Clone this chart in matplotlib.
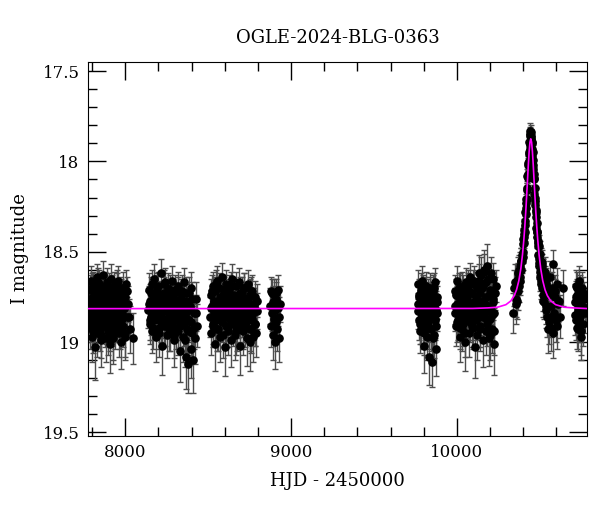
import numpy as np
import matplotlib
matplotlib.use("Agg")
import matplotlib.pyplot as plt
from matplotlib.ticker import MultipleLocator

# OGLE photometry, HJD - 2450000, I mag, error
t1 = [7781, 7784, 7786, 7789, 7792, 7795, 7797, 7800, 7803, 7806,
      7808, 7811, 7814, 7816, 7819, 7822, 7825, 7827, 7830, 7833,
      7836, 7839, 7841, 7844, 7847, 7850, 7853, 7855, 7858, 7861,
      7864, 7867, 7870, 7872, 7875, 7878, 7881, 7884, 7886, 7889,
      7892, 7895, 7898, 7901, 7903, 7906, 7909, 7912, 7915, 7918,
      7921, 7923, 7926, 7929, 7932, 7935, 7938, 7941, 7944, 7947,
      7950, 7953, 7956, 7960, 7963, 7966, 7970, 7973, 7977, 7980,
      7984, 7988, 7992, 7996, 8001, 8006, 8012, 8019, 8030, 8046,
      7782, 7788, 7794, 7799, 7805, 7810, 7815, 7821, 7826, 7832,
      7837, 7843, 7848, 7854, 7859, 7865, 7871, 7876, 7882, 7888,
      7893, 7899, 7905, 7910, 7916, 7922, 7927, 7933, 7939, 7945,
      7951, 7957, 7962, 7968, 7975, 7982, 7990, 7999, 8009, 8024]
m1 = [18.78, 18.85, 18.71, 18.92, 18.80, 18.66, 18.88, 18.97, 18.75, 18.83,
      18.69, 18.90, 18.81, 18.74, 19.03, 18.86, 18.77, 18.64, 18.95, 18.82,
      18.73, 18.87, 18.79, 18.68, 18.93, 18.84, 18.76, 18.99, 18.70, 18.89,
      18.81, 18.63, 18.86, 18.77, 18.91, 18.72, 18.84, 18.98, 18.79, 18.67,
      18.88, 18.75, 18.94, 18.82, 18.70, 19.01, 18.85, 18.78, 18.65, 18.90,
      18.83, 18.74, 18.96, 18.80, 18.69, 18.87, 18.92, 18.76, 18.84, 18.71,
      18.89, 18.79, 18.66, 18.95, 18.82, 18.73, 18.86, 19.00, 18.77, 18.84,
      18.70, 18.91, 18.81, 18.75, 18.97, 18.68, 18.86, 18.79, 18.93, 18.98,
      18.76, 18.89, 18.83, 18.70, 18.94, 18.79, 18.86, 18.72, 18.81, 18.91,
      18.67, 18.85, 18.78, 18.96, 18.74, 18.88, 18.82, 18.69, 18.90, 18.77,
      18.84, 18.73, 18.93, 18.80, 18.87, 18.71, 18.98, 18.83, 18.76, 18.89,
      18.68, 18.85, 18.79, 18.92, 18.74, 18.87, 18.81, 18.95, 18.72, 18.86]
e1 = [0.09, 0.10, 0.08, 0.12, 0.09, 0.08, 0.11, 0.14, 0.09, 0.10,
      0.08, 0.11, 0.10, 0.09, 0.18, 0.10, 0.09, 0.07, 0.13, 0.10,
      0.09, 0.11, 0.09, 0.08, 0.12, 0.10, 0.09, 0.15, 0.08, 0.11,
      0.10, 0.08, 0.11, 0.09, 0.12, 0.09, 0.10, 0.13, 0.10, 0.08,
      0.11, 0.09, 0.13, 0.10, 0.08, 0.16, 0.11, 0.09, 0.08, 0.12,
      0.10, 0.09, 0.14, 0.10, 0.08, 0.11, 0.12, 0.09, 0.10, 0.09,
      0.11, 0.10, 0.08, 0.13, 0.10, 0.09, 0.11, 0.15, 0.09, 0.10,
      0.09, 0.12, 0.10, 0.09, 0.13, 0.08, 0.11, 0.10, 0.13, 0.14,
      0.09, 0.11, 0.10, 0.08, 0.12, 0.09, 0.10, 0.08, 0.10, 0.11,
      0.08, 0.10, 0.09, 0.13, 0.09, 0.11, 0.10, 0.08, 0.11, 0.09,
      0.10, 0.09, 0.12, 0.10, 0.11, 0.08, 0.14, 0.10, 0.09, 0.11,
      0.08, 0.10, 0.09, 0.12, 0.09, 0.11, 0.10, 0.13, 0.08, 0.10]

t2 = [8139, 8143, 8147, 8150, 8154, 8158, 8161, 8165, 8168, 8172,
      8175, 8179, 8182, 8186, 8189, 8193, 8196, 8200, 8203, 8207,
      8210, 8214, 8217, 8221, 8224, 8228, 8231, 8235, 8238, 8242,
      8245, 8249, 8252, 8256, 8259, 8263, 8266, 8270, 8273, 8277,
      8280, 8284, 8287, 8291, 8294, 8298, 8301, 8305, 8308, 8312,
      8315, 8319, 8322, 8326, 8329, 8333, 8336, 8340, 8343, 8347,
      8350, 8354, 8357, 8361, 8364, 8368, 8371, 8375, 8378, 8382,
      8386, 8390, 8394, 8398, 8402, 8407, 8412, 8418, 8425, 8433,
      8141, 8148, 8156, 8163, 8170, 8177, 8184, 8191, 8198, 8205,
      8212, 8219, 8226, 8233, 8240, 8247, 8254, 8261, 8268, 8275,
      8282, 8289, 8296, 8303, 8310, 8317, 8324, 8331, 8338, 8345,
      8352, 8359, 8366, 8373, 8380, 8388, 8396, 8404, 8415, 8428]
m2 = [18.82, 18.71, 18.90, 18.77, 18.86, 18.68, 18.94, 18.80, 18.74, 18.88,
      18.65, 18.84, 18.79, 18.97, 18.72, 18.87, 18.81, 18.69, 18.92, 18.76,
      18.85, 18.62, 18.89, 18.78, 19.02, 18.83, 18.73, 18.91, 18.80, 18.67,
      18.87, 18.75, 18.96, 18.82, 18.70, 18.86, 18.79, 18.93, 18.74, 18.84,
      18.66, 18.89, 18.81, 18.99, 18.76, 18.85, 18.71, 18.92, 18.83, 18.78,
      18.94, 18.69, 18.86, 18.80, 19.05, 18.74, 18.88, 18.82, 18.72, 18.97,
      18.79, 18.90, 18.67, 18.85, 19.08, 18.77, 18.93, 18.83, 19.12, 18.73,
      18.88, 18.81, 19.04, 18.70, 18.95, 19.10, 18.84, 18.98, 18.76, 18.91,
      18.79, 18.88, 18.73, 18.84, 18.92, 18.77, 18.86, 18.70, 18.81, 18.95,
      18.75, 18.87, 18.80, 18.68, 18.90, 18.83, 18.76, 18.93, 18.71, 18.85,
      18.82, 18.74, 18.96, 18.79, 18.88, 18.72, 18.84, 18.91, 18.77, 18.86,
      18.81, 18.99, 18.73, 18.87, 18.94, 18.80, 18.89, 18.76, 18.92, 18.84]
e2 = [0.10, 0.09, 0.11, 0.09, 0.10, 0.08, 0.12, 0.10, 0.09, 0.11,
      0.08, 0.10, 0.09, 0.14, 0.09, 0.11, 0.10, 0.08, 0.12, 0.09,
      0.10, 0.08, 0.11, 0.09, 0.16, 0.10, 0.09, 0.12, 0.10, 0.08,
      0.11, 0.09, 0.13, 0.10, 0.08, 0.11, 0.09, 0.12, 0.09, 0.10,
      0.08, 0.11, 0.10, 0.15, 0.09, 0.11, 0.08, 0.12, 0.10, 0.09,
      0.13, 0.08, 0.11, 0.10, 0.17, 0.09, 0.11, 0.10, 0.09, 0.14,
      0.10, 0.12, 0.08, 0.11, 0.18, 0.09, 0.13, 0.10, 0.16, 0.09,
      0.11, 0.10, 0.16, 0.09, 0.13, 0.18, 0.10, 0.14, 0.09, 0.12,
      0.10, 0.11, 0.09, 0.10, 0.12, 0.09, 0.11, 0.08, 0.10, 0.13,
      0.09, 0.11, 0.10, 0.08, 0.12, 0.10, 0.09, 0.12, 0.08, 0.10,
      0.10, 0.09, 0.13, 0.10, 0.11, 0.08, 0.10, 0.12, 0.09, 0.11,
      0.10, 0.15, 0.09, 0.11, 0.13, 0.10, 0.11, 0.09, 0.12, 0.10]

t3 = [8512, 8516, 8519, 8523, 8526, 8530, 8533, 8537, 8540, 8544,
      8547, 8551, 8554, 8557, 8561, 8564, 8568, 8571, 8575, 8578,
      8582, 8585, 8589, 8592, 8596, 8599, 8603, 8606, 8610, 8613,
      8617, 8620, 8624, 8627, 8631, 8634, 8638, 8641, 8645, 8648,
      8652, 8655, 8659, 8662, 8666, 8669, 8673, 8676, 8680, 8683,
      8687, 8690, 8694, 8697, 8701, 8704, 8708, 8711, 8715, 8718,
      8722, 8725, 8729, 8732, 8736, 8739, 8743, 8746, 8750, 8754,
      8757, 8761, 8765, 8769, 8773, 8777, 8781, 8785, 8790, 8795,
      8514, 8521, 8528, 8535, 8542, 8549, 8556, 8563, 8570, 8577,
      8584, 8591, 8598, 8605, 8612, 8619, 8626, 8633, 8640, 8647,
      8654, 8661, 8668, 8675, 8682, 8689, 8696, 8703, 8710, 8717,
      8724, 8731, 8738, 8745, 8752, 8759, 8767, 8775, 8783, 8792]
m3 = [18.86, 18.74, 18.95, 18.80, 18.69, 18.91, 18.83, 18.77, 19.01, 18.72,
      18.88, 18.81, 18.66, 18.93, 18.78, 18.85, 18.70, 18.97, 18.82, 18.75,
      18.64, 18.89, 18.79, 18.86, 18.73, 19.03, 18.84, 18.68, 18.91, 18.80,
      18.76, 18.94, 18.82, 18.71, 18.87, 18.78, 18.99, 18.65, 18.85, 18.81,
      18.90, 18.74, 18.83, 18.96, 18.69, 18.87, 18.79, 18.92, 18.75, 18.84,
      18.67, 18.89, 19.02, 18.80, 18.73, 18.86, 18.94, 18.77, 18.83, 18.70,
      18.91, 18.82, 18.76, 18.98, 18.85, 18.68, 18.88, 18.79, 19.00, 18.74,
      18.86, 18.93, 18.72, 18.84, 18.97, 18.80, 18.90, 18.75, 18.95, 18.83,
      18.81, 18.72, 18.90, 18.78, 18.85, 18.68, 18.93, 18.83, 18.75, 18.88,
      18.80, 18.96, 18.71, 18.86, 18.79, 18.91, 18.74, 18.84, 18.69, 18.89,
      18.82, 18.77, 18.94, 18.80, 18.87, 18.73, 18.85, 18.78, 18.92, 18.70,
      18.84, 18.89, 18.76, 18.81, 18.93, 18.72, 18.87, 18.79, 18.90, 18.77]
e3 = [0.11, 0.09, 0.12, 0.10, 0.08, 0.12, 0.10, 0.09, 0.15, 0.08,
      0.11, 0.10, 0.08, 0.12, 0.09, 0.11, 0.08, 0.14, 0.10, 0.09,
      0.08, 0.11, 0.10, 0.11, 0.09, 0.16, 0.10, 0.08, 0.12, 0.10,
      0.09, 0.13, 0.10, 0.08, 0.11, 0.09, 0.15, 0.08, 0.11, 0.10,
      0.12, 0.09, 0.10, 0.14, 0.08, 0.11, 0.09, 0.13, 0.09, 0.10,
      0.08, 0.11, 0.16, 0.10, 0.09, 0.11, 0.13, 0.09, 0.10, 0.08,
      0.12, 0.10, 0.09, 0.15, 0.11, 0.08, 0.11, 0.10, 0.16, 0.09,
      0.11, 0.13, 0.09, 0.10, 0.14, 0.10, 0.12, 0.09, 0.13, 0.10,
      0.10, 0.09, 0.11, 0.09, 0.10, 0.08, 0.12, 0.10, 0.09, 0.11,
      0.10, 0.13, 0.08, 0.11, 0.09, 0.12, 0.09, 0.10, 0.08, 0.11,
      0.10, 0.09, 0.13, 0.10, 0.11, 0.09, 0.10, 0.09, 0.12, 0.08,
      0.10, 0.11, 0.09, 0.10, 0.12, 0.08, 0.11, 0.09, 0.12, 0.09]

t4 = [8873, 8876, 8879, 8882, 8885, 8888, 8891, 8894, 8897, 8900,
      8903, 8906, 8909, 8912, 8915, 8919, 8923, 8926, 8930, 8934]
m4 = [18.80, 18.72, 18.91, 18.84, 18.73, 18.96, 18.78, 18.87, 18.74, 19.00,
      18.82, 18.73, 18.89, 18.76, 18.93, 18.81, 18.71, 18.86, 18.98, 18.79]
e4 = [0.10, 0.08, 0.12, 0.10, 0.08, 0.14, 0.09, 0.11, 0.09, 0.15,
      0.10, 0.08, 0.11, 0.09, 0.12, 0.10, 0.08, 0.11, 0.13, 0.10]

t5 = [9765, 9768, 9771, 9774, 9777, 9780, 9783, 9786, 9789, 9792,
      9795, 9798, 9801, 9804, 9807, 9810, 9813, 9816, 9819, 9822,
      9825, 9828, 9831, 9834, 9837, 9840, 9843, 9846, 9849, 9852,
      9855, 9858, 9861, 9864, 9867, 9870, 9873, 9876, 9878, 9881,
      9766, 9772, 9778, 9784, 9790, 9796, 9802, 9808, 9814, 9820,
      9826, 9832, 9838, 9844, 9850, 9856, 9862, 9868, 9874, 9879]
m5 = [18.79, 18.68, 18.88, 18.75, 18.94, 18.82, 18.71, 18.90, 18.85, 18.66,
      18.92, 18.77, 18.84, 19.02, 18.73, 18.87, 18.80, 18.69, 18.97, 18.83,
      18.74, 18.89, 18.78, 19.08, 18.86, 18.70, 18.93, 18.81, 18.76, 19.11,
      18.85, 18.72, 18.96, 18.80, 18.88, 18.67, 18.91, 19.04, 18.78, 18.84,
      18.83, 18.74, 18.90, 18.78, 18.86, 18.71, 18.95, 18.81, 18.76, 18.88,
      18.80, 18.92, 18.73, 18.85, 18.79, 18.98, 18.70, 18.87, 18.82, 18.75]
e5 = [0.10, 0.08, 0.11, 0.09, 0.12, 0.10, 0.09, 0.11, 0.10, 0.08,
      0.12, 0.09, 0.10, 0.15, 0.09, 0.11, 0.10, 0.08, 0.13, 0.10,
      0.09, 0.11, 0.10, 0.16, 0.11, 0.08, 0.12, 0.10, 0.09, 0.14,
      0.11, 0.09, 0.13, 0.10, 0.11, 0.08, 0.12, 0.15, 0.09, 0.10,
      0.10, 0.09, 0.11, 0.09, 0.10, 0.08, 0.12, 0.10, 0.09, 0.11,
      0.10, 0.12, 0.09, 0.10, 0.09, 0.14, 0.08, 0.11, 0.10, 0.09]

t6 = [9988, 9991, 9995, 9998, 10002, 10005, 10009, 10012, 10016, 10019,
      10023, 10026, 10030, 10033, 10037, 10040, 10044, 10047, 10051, 10054,
      10058, 10061, 10065, 10068, 10072, 10075, 10079, 10082, 10086, 10089,
      10093, 10096, 10100, 10103, 10107, 10110, 10114, 10117, 10121, 10124,
      10128, 10131, 10135, 10138, 10142, 10145, 10149, 10152, 10156, 10159,
      10163, 10166, 10170, 10173, 10177, 10180, 10184, 10187, 10191, 10194,
      10198, 10201, 10205, 10208, 10212, 10216, 10219, 10222, 10226, 10229,
      9990, 9996, 10002, 10008, 10014, 10020, 10027, 10033, 10039, 10045,
      10051, 10057, 10063, 10069, 10076, 10082, 10088, 10094, 10100, 10106,
      10112, 10118, 10125, 10131, 10137, 10143, 10149, 10155, 10161, 10167,
      10174, 10180, 10186, 10192, 10198, 10204, 10211, 10218, 10225, 10235]
m6 = [18.84, 18.72, 18.91, 18.79, 18.66, 18.88, 18.81, 18.75, 18.97, 18.70,
      18.86, 18.78, 18.93, 18.69, 18.83, 18.90, 18.74, 18.80, 19.00, 18.67,
      18.87, 18.76, 18.82, 18.71, 18.95, 18.79, 18.64, 18.89, 18.85, 18.73,
      18.81, 18.92, 18.68, 18.78, 19.03, 18.84, 18.75, 18.88, 18.70, 18.96,
      18.80, 18.66, 18.86, 18.73, 18.91, 18.63, 18.83, 18.77, 18.99, 18.69,
      18.85, 18.61, 18.79, 18.94, 18.67, 18.88, 18.58, 18.82, 18.74, 18.98,
      18.71, 18.87, 18.62, 18.80, 18.93, 18.76, 18.65, 19.01, 18.84, 18.73,
      18.80, 18.74, 18.89, 18.83, 18.70, 18.92, 18.78, 18.86, 18.72, 18.81,
      18.95, 18.76, 18.85, 18.68, 18.88, 18.79, 18.73, 18.91, 18.82, 18.66,
      18.87, 18.77, 18.84, 18.62, 18.93, 18.80, 18.70, 18.86, 18.60, 18.83,
      18.75, 18.90, 18.65, 18.81, 18.96, 18.72, 18.85, 18.78, 18.94, 18.69]
e6 = [0.10, 0.09, 0.11, 0.10, 0.08, 0.11, 0.10, 0.09, 0.14, 0.08,
      0.11, 0.09, 0.12, 0.08, 0.10, 0.12, 0.09, 0.10, 0.16, 0.08,
      0.11, 0.09, 0.10, 0.09, 0.13, 0.10, 0.08, 0.11, 0.10, 0.09,
      0.10, 0.12, 0.08, 0.09, 0.17, 0.10, 0.09, 0.11, 0.09, 0.14,
      0.10, 0.09, 0.11, 0.09, 0.12, 0.10, 0.10, 0.09, 0.15, 0.08,
      0.11, 0.10, 0.10, 0.13, 0.09, 0.12, 0.12, 0.10, 0.09, 0.15,
      0.09, 0.11, 0.09, 0.10, 0.13, 0.10, 0.09, 0.17, 0.11, 0.09,
      0.10, 0.09, 0.11, 0.10, 0.08, 0.12, 0.09, 0.11, 0.09, 0.10,
      0.13, 0.09, 0.11, 0.08, 0.11, 0.10, 0.09, 0.12, 0.10, 0.08,
      0.11, 0.09, 0.10, 0.10, 0.12, 0.10, 0.09, 0.11, 0.11, 0.10,
      0.09, 0.12, 0.09, 0.10, 0.14, 0.09, 0.11, 0.10, 0.13, 0.09]

# 2024 season with the event
t7 = [10352, 10356, 10360, 10364, 10368, 10371, 10374, 10377, 10380, 10383,
      10386, 10389, 10392, 10395, 10398, 10400, 10402, 10404, 10406, 10408,
      10410, 10412, 10414, 10416, 10418, 10420, 10422, 10424, 10426, 10428,
      10430, 10432, 10434, 10436, 10438, 10440, 10442, 10444, 10445, 10446,
      10447, 10448, 10450, 10452, 10454, 10456, 10458, 10460, 10462, 10464,
      10466, 10468, 10470, 10472, 10474, 10476, 10478, 10480, 10482, 10484,
      10486, 10488, 10490, 10492, 10494, 10496, 10499, 10502, 10505, 10508,
      10511, 10514, 10517, 10520, 10524, 10528, 10532, 10536, 10540, 10545,
      10550, 10555, 10560, 10565, 10570, 10575, 10580, 10585, 10590, 10596,
      10602, 10608,
      10340, 10346, 10358, 10366, 10382, 10388, 10397, 10403, 10409, 10415,
      10421, 10427, 10433, 10439, 10443, 10449, 10453, 10457, 10463, 10469,
      10475, 10481, 10487, 10493, 10498, 10503, 10509, 10515, 10522, 10530,
      10538, 10548, 10558, 10568, 10578, 10592, 10605, 10615, 10625, 10638]
m7 = [18.67, 18.79, 18.66, 18.77, 18.62, 18.72, 18.60, 18.69, 18.58, 18.64,
      18.55, 18.60, 18.52, 18.55, 18.46, 18.50, 18.43, 18.45, 18.38, 18.40,
      18.33, 18.35, 18.28, 18.29, 18.21, 18.23, 18.15, 18.16, 18.08, 18.09,
      18.01, 18.02, 17.95, 17.96, 17.89, 17.91, 17.86, 17.85, 17.89, 17.84,
      17.88, 17.86, 17.87, 17.93, 17.90, 17.97, 17.95, 18.04, 18.02, 18.10,
      18.09, 18.18, 18.15, 18.24, 18.22, 18.31, 18.28, 18.37, 18.34, 18.42,
      18.39, 18.47, 18.44, 18.52, 18.47, 18.56, 18.51, 18.61, 18.55, 18.66,
      18.58, 18.70, 18.62, 18.74, 18.63, 18.78, 18.66, 18.82, 18.68, 18.86,
      18.71, 18.89, 18.64, 18.80, 18.92, 18.70, 18.57, 18.84, 18.75, 18.88,
      18.68, 18.79,
      18.84, 18.70, 18.76, 18.65, 18.66, 18.55, 18.53, 18.42, 18.39, 18.26,
      18.21, 18.07, 18.00, 17.93, 17.83, 17.90, 17.89, 17.99, 18.07, 18.20,
      18.27, 18.39, 18.45, 18.54, 18.58, 18.64, 18.68, 18.56, 18.77, 18.61,
      18.80, 18.93, 18.74, 18.86, 18.95, 18.72, 18.91, 18.77, 18.86, 18.70]
e7 = [0.10, 0.11, 0.09, 0.10, 0.09, 0.10, 0.08, 0.09, 0.08, 0.08,
      0.07, 0.07, 0.07, 0.07, 0.06, 0.06, 0.06, 0.06, 0.06, 0.05,
      0.05, 0.05, 0.05, 0.05, 0.05, 0.05, 0.04, 0.04, 0.04, 0.04,
      0.04, 0.04, 0.04, 0.04, 0.04, 0.04, 0.03, 0.04, 0.03, 0.04,
      0.03, 0.04, 0.04, 0.04, 0.04, 0.04, 0.04, 0.04, 0.04, 0.04,
      0.04, 0.05, 0.05, 0.05, 0.05, 0.05, 0.05, 0.05, 0.05, 0.06,
      0.06, 0.06, 0.06, 0.06, 0.06, 0.07, 0.07, 0.07, 0.07, 0.08,
      0.07, 0.08, 0.08, 0.09, 0.08, 0.09, 0.08, 0.10, 0.09, 0.11,
      0.09, 0.12, 0.09, 0.10, 0.13, 0.09, 0.08, 0.11, 0.10, 0.12,
      0.09, 0.10,
      0.11, 0.10, 0.10, 0.09, 0.08, 0.07, 0.07, 0.06, 0.05, 0.05,
      0.05, 0.04, 0.04, 0.04, 0.04, 0.04, 0.04, 0.04, 0.04, 0.05,
      0.05, 0.05, 0.06, 0.06, 0.07, 0.08, 0.08, 0.07, 0.09, 0.08,
      0.10, 0.13, 0.10, 0.11, 0.14, 0.09, 0.13, 0.10, 0.12, 0.10]

t8 = [10712, 10716, 10720, 10724, 10728, 10732, 10736, 10740, 10744, 10748,
      10752, 10757, 10762, 10768, 10775,
      10714, 10718, 10722, 10726, 10730, 10734, 10742, 10750, 10760, 10780]
m8 = [18.78, 18.69, 18.88, 18.74, 18.93, 18.81, 18.66, 18.86, 18.72, 18.97,
      18.80, 18.70, 18.90, 18.76, 18.84,
      18.85, 18.75, 18.92, 18.70, 18.83, 18.89, 18.77, 18.94, 18.73, 18.81]
e8 = [0.10, 0.09, 0.11, 0.09, 0.12, 0.10, 0.08, 0.11, 0.09, 0.13,
      0.10, 0.09, 0.12, 0.09, 0.11,
      0.11, 0.09, 0.12, 0.09, 0.10, 0.11, 0.09, 0.13, 0.09, 0.10]

# microlensing model curve (magenta)
mod_t = [7775, 10096, 10186, 10246, 10296, 10326, 10346, 10360, 10374, 10386,
         10396, 10404, 10410, 10416, 10421, 10426, 10431, 10436, 10441, 10446,
         10451, 10456, 10461, 10466, 10471, 10476, 10482, 10488, 10496, 10506,
         10518, 10532, 10546, 10566, 10596, 10646, 10706, 10796]
mod_m = [18.815, 18.814, 18.811, 18.807, 18.793, 18.772, 18.743, 18.711, 18.660, 18.594,
         18.516, 18.435, 18.360, 18.274, 18.193, 18.108, 18.022, 17.947, 17.894, 17.875,
         17.894, 17.947, 18.022, 18.108, 18.193, 18.274, 18.360, 18.435, 18.516, 18.594,
         18.660, 18.711, 18.743, 18.772, 18.793, 18.807, 18.811, 18.815]

t = np.concatenate([t1, t2, t3, t4, t5, t6, t7, t8])
m = np.concatenate([m1, m2, m3, m4, m5, m6, m7, m8])
e = np.concatenate([e1, e2, e3, e4, e5, e6, e7, e8])

plt.rcParams['font.family'] = ['DejaVu Serif']
fig = plt.figure(figsize=(6.0, 5.12), dpi=100)
ax = fig.add_axes([0.1467, 0.1484, 0.8316, 0.7305])

ax.errorbar(t, m, yerr=e, fmt='o', color='black', ms=5.2, ecolor='0.3',
            elinewidth=1, capsize=2.5, capthick=1, zorder=2)
ax.plot(mod_t, mod_m, color='#ff00ff', lw=1.2, zorder=3)

ax.set_xlim(7775, 10785)
ax.set_ylim(19.52, 17.45)
ax.xaxis.set_major_locator(MultipleLocator(1000))
ax.xaxis.set_minor_locator(MultipleLocator(200))
ax.yaxis.set_major_locator(MultipleLocator(0.5))
ax.yaxis.set_minor_locator(MultipleLocator(0.1))
ax.yaxis.set_major_formatter(plt.FuncFormatter(lambda v, p: ('%g' % v)))
ax.tick_params(which='both', direction='in', top=True, right=True, labelsize=12, width=1)
ax.tick_params(which='major', length=13, pad=6)
ax.tick_params(which='minor', length=6.5)

ax.set_title('OGLE-2024-BLG-0363', fontsize=13, pad=14)
ax.set_xlabel('HJD - 2450000', fontsize=13, labelpad=8)
ax.set_ylabel('I magnitude', fontsize=13, labelpad=10)

fig.savefig('out.png', dpi=100)
